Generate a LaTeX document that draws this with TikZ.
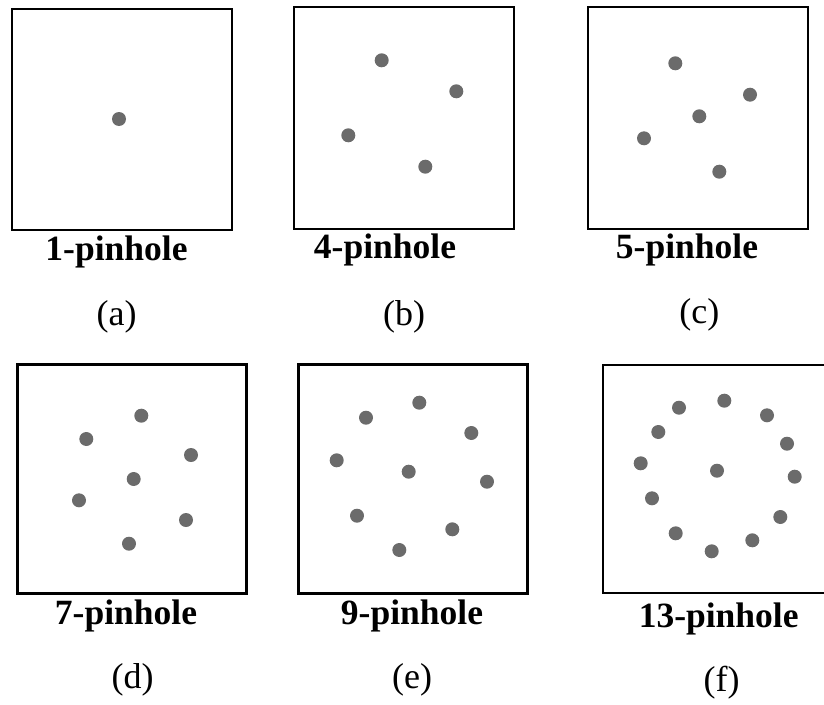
\documentclass[tikz,border=0pt]{standalone}
\usepackage{fontspec}
\setmainfont{Liberation Serif}
\definecolor{pingray}{HTML}{6B6B6B}
\begin{document}
\begin{tikzpicture}[x=1pt,y=-1pt,
  frame/.style={draw=black,line width=2.4pt},
  pin/.style={circle,fill=pingray,draw=none,minimum size=14pt,inner sep=0pt},
  title/.style={anchor=base,inner sep=0pt,font=\fontsize{35.5}{40}\selectfont\bfseries},
  sub/.style={anchor=base,inner sep=0pt,font=\fontsize{36}{40}\selectfont}]
\useasboundingbox (0,0) rectangle (824,704);
\clip (0,0) rectangle (824,704);
% boxes
\draw[frame] (12,9) rectangle (232,230);
\draw[frame] (294,7) rectangle (514,229);
\draw[frame] (588,7) rectangle (808,229);
\draw[frame] (17.5,364.5) rectangle (246.5,593.5);
\draw[frame] (298.5,364.5) rectangle (527.5,593.5);
\draw[frame] (603,365) rectangle (832,593);
% (a)
\node[pin] (a1) at (119,119) {};
% (b)
\node[pin] (b1) at (381.7,60.3) {};
\node[pin] (b2) at (456.3,91.3) {};
\node[pin] (b3) at (348.3,135.3) {};
\node[pin] (b4) at (425.3,166.7) {};
% (c)
\node[pin] (c1) at (675.3,63.3) {};
\node[pin] (c2) at (750,94.7) {};
\node[pin] (c3) at (699.3,116.3) {};
\node[pin] (c4) at (644,138.3) {};
\node[pin] (c5) at (719.3,171.7) {};
% (d)
\node[pin] (d1) at (141.3,415.7) {};
\node[pin] (d2) at (86.3,439) {};
\node[pin] (d3) at (191,455) {};
\node[pin] (d4) at (133.7,479) {};
\node[pin] (d5) at (79,500.3) {};
\node[pin] (d6) at (186,520) {};
\node[pin] (d7) at (129,543.7) {};
% (e)
\node[pin] (e1) at (419.3,402.7) {};
\node[pin] (e2) at (366,417.7) {};
\node[pin] (e3) at (471.3,433) {};
\node[pin] (e4) at (336.7,460.3) {};
\node[pin] (e5) at (408.7,471.7) {};
\node[pin] (e6) at (487,481.7) {};
\node[pin] (e7) at (357,515.7) {};
\node[pin] (e8) at (452.3,529.3) {};
\node[pin] (e9) at (399.3,550) {};
% (f)
\node[pin] (f1) at (724.3,400.7) {};
\node[pin] (f2) at (679,407.7) {};
\node[pin] (f3) at (767,415.3) {};
\node[pin] (f4) at (658.3,432) {};
\node[pin] (f5) at (787,443.7) {};
\node[pin] (f6) at (640.7,463.3) {};
\node[pin] (f7) at (717,470.7) {};
\node[pin] (f8) at (794.7,476.7) {};
\node[pin] (f9) at (652,498.3) {};
\node[pin] (f10) at (780.3,517) {};
\node[pin] (f11) at (675.7,533.3) {};
\node[pin] (f12) at (752.3,540.3) {};
\node[pin] (f13) at (711.7,551.3) {};
% labels
\node[title] (ta) at (116.5,260) {1-pinhole};
\node[title] (tb) at (385,258) {4-pinhole};
\node[title] (tc) at (687,258) {5-pinhole};
\node[title] (td) at (126,624) {7-pinhole};
\node[title] (te) at (412,624) {9-pinhole};
\node[title] (tf) at (718.7,627) {13-pinhole};
\node[sub] (la) at (116.7,325) {(a)};
\node[sub] (lb) at (404,325) {(b)};
\node[sub] (lc) at (699.3,323) {(c)};
\node[sub] (ld) at (132.7,688) {(d)};
\node[sub] (le) at (412,688) {(e)};
\node[sub] (lf) at (721.7,691) {(f)};
\end{tikzpicture}
\end{document}
